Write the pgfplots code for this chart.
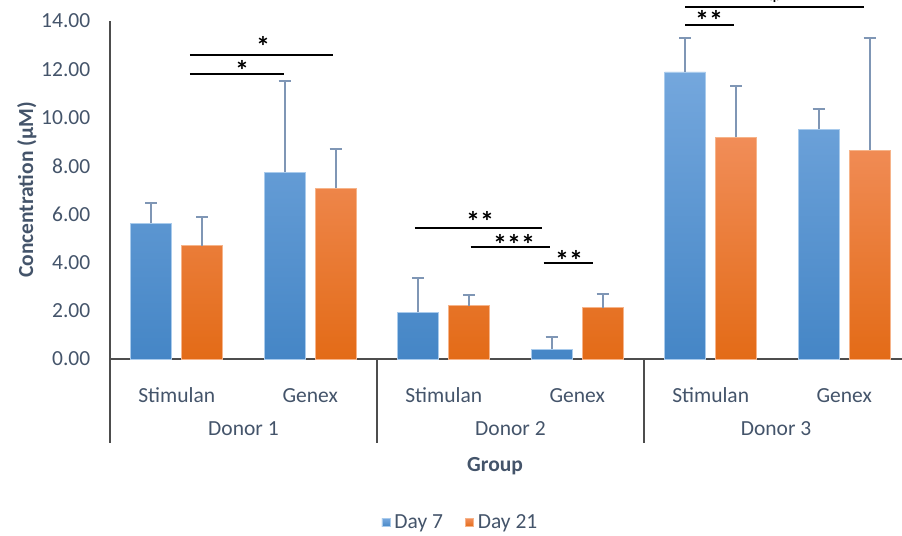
\documentclass[border=0pt]{standalone}
\usepackage{pgfplots}
\pgfplotsset{compat=1.18}
\usepackage{fontspec}
\setmainfont{Carlito}
\definecolor{txt}{HTML}{44546A}
\definecolor{axisgray}{HTML}{4D4D4D}
\definecolor{errc}{HTML}{7F96B5}
\definecolor{btop}{HTML}{74A7DD}
\definecolor{bmid}{HTML}{5B9BD9}
\definecolor{bbot}{HTML}{4586C6}
\definecolor{bedge}{HTML}{A9CBEC}
\definecolor{otop}{HTML}{F18D58}
\definecolor{omid}{HTML}{F47E2B}
\definecolor{obot}{HTML}{E36B17}
\definecolor{oedge}{HTML}{F6B48A}
\newcommand\mainsize{\fontsize{10.75}{13}\selectfont}
\newcommand\starsize{\fontsize{14}{16}\selectfont\bfseries}
\begin{document}
\begin{tikzpicture}
\begin{axis}[
  x=66.75pt, y=12.07pt,
  xmin=-0.5, xmax=5.433, ymin=0, ymax=14,
  axis lines*=left,
  axis line style={draw=axisgray, line width=0.8pt, -},
  clip=false,
  ytick={0,2,4,6,8,10,12,14},
  xtick={0,1,2,3,4,5},
  xticklabels={Stimulan,Genex,Stimulan,Genex,Stimulan,Genex},
  tick style={draw=none},
  /pgf/number format/assume math mode=true,
  y tick label style={/pgf/number format/fixed, /pgf/number format/fixed zerofill, /pgf/number format/precision=2},
  yticklabel style={inner sep=0pt, xshift=-9.65pt, font=\mainsize, text=txt},
  xticklabel style={anchor=base, inner sep=0pt, yshift=-17.35pt, font=\mainsize, text=txt},
  ybar, bar width=20.5pt,
  legend style={at={(axis cs:2.133,-6.79)}, anchor=center, draw=none, fill=none,
    legend columns=2, font=\mainsize, text=txt,
    /tikz/every even column/.append style={column sep=9pt}},
  legend image code/.code={\fill[#1] (0pt,-2pt) rectangle (4pt,2pt);},
  error bars/y dir=plus, error bars/y explicit,
  error bars/error bar style={draw=errc, line width=1pt},
  error bars/error mark options={draw=errc, rotate=90, mark size=3pt, line width=1pt},
]
\addplot[ybar, bar shift=-12.75pt, draw=bedge, line width=0.4pt, top color=btop, middle color=bmid, bottom color=bbot]
 coordinates {(0,5.62) +- (0,0.84) (1,7.73) +- (0,3.80) (2,1.93) +- (0,1.44)
              (3,0.41) +- (0,0.51) (4,11.89) +- (0,1.42) (5,9.52) +- (0,0.84)};
\addplot[ybar, bar shift=12.75pt, draw=oedge, line width=0.4pt, top color=otop, middle color=omid, bottom color=obot]
 coordinates {(0,4.69) +- (0,1.18) (1,7.07) +- (0,1.63) (2,2.20) +- (0,0.44)
              (3,2.13) +- (0,0.58) (4,9.18) +- (0,2.14) (5,8.65) +- (0,4.66)};
\legend{Day 7, Day 21}
% separators
\draw[axisgray, line width=0.8pt] (axis cs:-0.5,0) -- (axis cs:-0.5,-3.48);
\draw[axisgray, line width=0.8pt] (axis cs:1.5,0) -- (axis cs:1.5,-3.48);
\draw[axisgray, line width=0.8pt] (axis cs:3.5,0) -- (axis cs:3.5,-3.48);
% group labels
\node[anchor=base, inner sep=0pt, font=\mainsize, text=txt] at (axis cs:0.5,-3.19) {Donor 1};
\node[anchor=base, inner sep=0pt, font=\mainsize, text=txt] at (axis cs:2.5,-3.19) {Donor 2};
\node[anchor=base, inner sep=0pt, font=\mainsize, text=txt] at (axis cs:4.49,-3.19) {Donor 3};
\node[anchor=base, inner sep=0pt, font=\mainsize\bfseries, text=txt] at (axis cs:2.385,-4.66) {Group};
\node[anchor=base, inner sep=0pt, rotate=90, font=\mainsize\bfseries, text=txt] at (axis cs:-1.076,7) {Concentration (µM)};
% significance brackets
\draw[black, line width=1pt] (axis cs:0.0996,12.59) -- (axis cs:1.173,12.59);
\draw[black, line width=1pt] (axis cs:0.0996,11.81) -- (axis cs:0.804,11.81);
\draw[black, line width=1pt] (axis cs:1.785,5.41) -- (axis cs:2.739,5.41);
\draw[black, line width=1pt] (axis cs:2.202,4.63) -- (axis cs:2.798,4.63);
\draw[black, line width=1pt] (axis cs:2.749,3.96) -- (axis cs:3.118,3.96);
\draw[black, line width=1pt] (axis cs:3.808,14.57) -- (axis cs:5.151,14.57);
\draw[black, line width=1pt] (axis cs:3.808,13.85) -- (axis cs:4.177,13.85);
\node[anchor=base, inner sep=0pt, font=\starsize] at (axis cs:0.647,12.52) {*};
\node[anchor=base, inner sep=0pt, font=\starsize] at (axis cs:0.489,11.52) {*};
\node[anchor=base, inner sep=0pt, font=\starsize] at (axis cs:2.272,5.27) {**};
\node[anchor=base, inner sep=0pt, font=\starsize] at (axis cs:2.527,4.33) {***};
\node[anchor=base, inner sep=0pt, font=\starsize] at (axis cs:2.939,3.68) {**};
\node[anchor=base, inner sep=0pt, font=\starsize] at (axis cs:3.988,13.60) {**};
\node[anchor=base, inner sep=0pt, font=\starsize] at (axis cs:4.479,14.32) {*};
\coordinate (bbA) at (axis cs:-1.3236,14.87);
\coordinate (bbB) at (axis cs:5.433,-7.332);
\end{axis}
\pgfresetboundingbox
\useasboundingbox (bbA) rectangle (bbB);
\end{tikzpicture}
\end{document}
